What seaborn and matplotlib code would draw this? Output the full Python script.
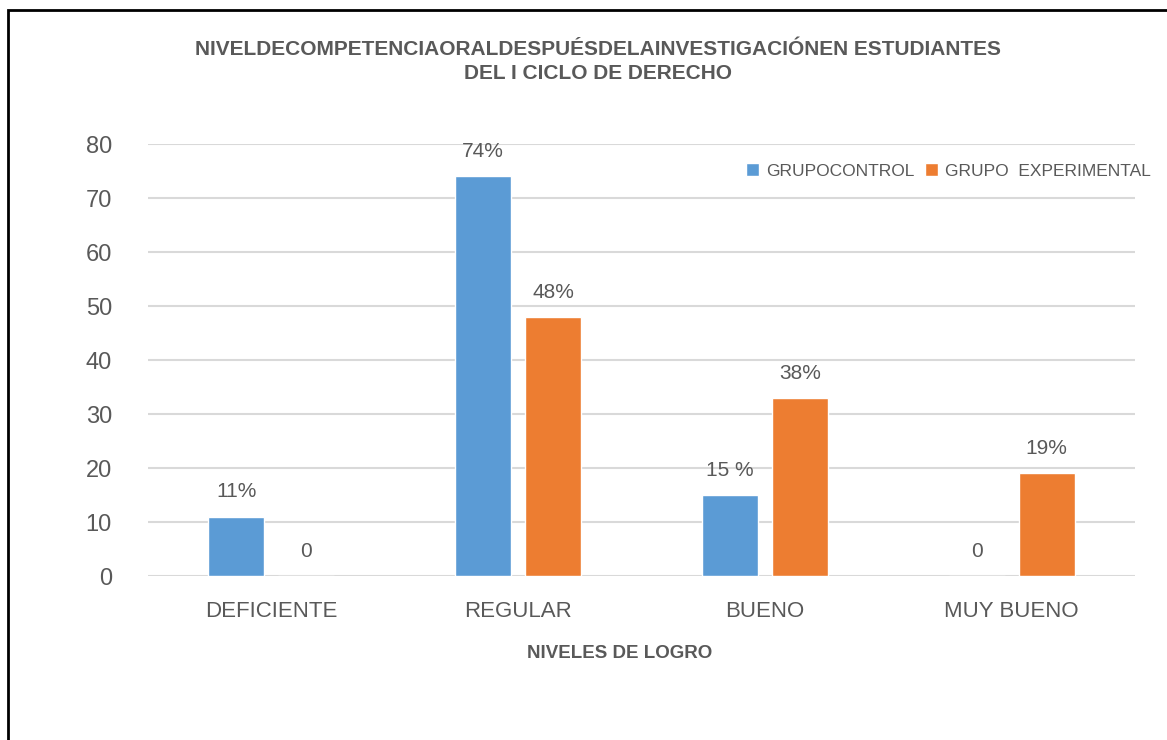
import pandas as pd
import matplotlib.pyplot as plt
import seaborn as sns
from matplotlib.patches import Rectangle

# Datos
niveles = ['DEFICIENTE', 'REGULAR', 'BUENO', 'MUY BUENO']
grupos = ['GRUPOCONTROL', 'GRUPO  EXPERIMENTAL']
control = [11, 74, 15, 0]
experimental = [0, 48, 33, 19]
etiquetas_control = ['11%', '74%', '15 %', '0']
etiquetas_experimental = ['0', '48%', '38%', '19%']
colores = ['#5B9BD5', '#ED7D31']

df = pd.DataFrame({
    'nivel': niveles * 2,
    'grupo': [grupos[0]] * 4 + [grupos[1]] * 4,
    'valor': control + experimental,
})

sns.set_style('white')
plt.rcParams['font.family'] = ['Liberation Sans', 'DejaVu Sans']
gris = '#595959'

fig = plt.figure(figsize=(11.67, 7.4), dpi=100)
ax = fig.add_axes([0.1268, 0.2216, 0.8458, 0.5838])

sns.barplot(data=df, x='nivel', y='valor', hue='grupo', order=niveles,
            hue_order=grupos, palette=colores, width=0.567, gap=0.2,
            saturation=1, ax=ax)

for cont, etiq in zip(ax.containers, [etiquetas_control, etiquetas_experimental]):
    ax.bar_label(cont, labels=etiq, padding=11, fontsize=15, color=gris)

ax.set_ylim(0, 80)
ax.set_yticks(range(0, 81, 10))
ax.grid(axis='y', color='#D9D9D9', linewidth=1.5)
ax.set_axisbelow(True)
for s in ax.spines.values():
    s.set_visible(False)
ax.tick_params(axis='y', length=0, pad=26, labelsize=17, labelcolor=gris)
ax.tick_params(axis='x', length=0, pad=18, labelsize=16, labelcolor=gris)
ax.set_ylabel('')
ax.set_xlabel('NIVELES DE LOGRO', fontsize=13.5, fontweight='bold', color=gris)
ax.xaxis.set_label_coords(0.478, -0.16)

leg = ax.legend(loc='center right', bbox_to_anchor=(1.016, 0.9375), ncol=2, frameon=False,
                fontsize=12.5, handlelength=0.75, handleheight=0.75, handletextpad=0.4,
                columnspacing=0.6, labelcolor=gris, borderpad=0, borderaxespad=0)

fig.text(0.512, 0.917, 'NIVELDECOMPETENCIAORALDESPUÉSDELAINVESTIGACIÓNEN ESTUDIANTES\nDEL I CICLO DE DERECHO',
         ha='center', va='center', fontsize=15, fontweight='bold', color=gris, linespacing=1.3)

# marco exterior
fig.patches.append(Rectangle((0.007, -0.1), 1.2, 1.1 - 0.0135, transform=fig.transFigure,
                             fill=False, edgecolor='black', linewidth=2))

fig.savefig('out.png', dpi=100)
